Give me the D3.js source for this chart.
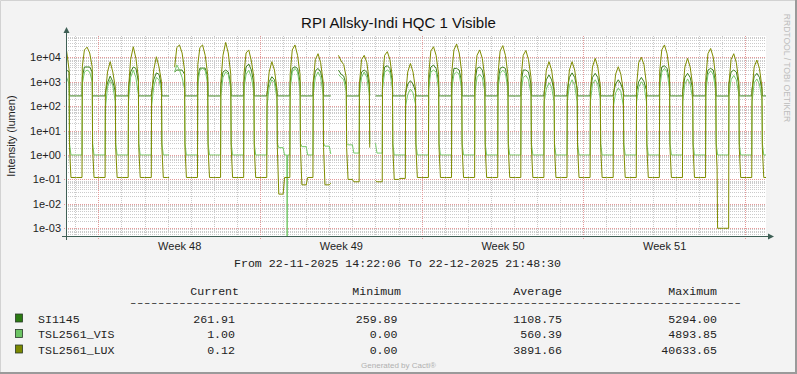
<!DOCTYPE html>
<html>
<head>
<meta charset="utf-8">
<script src="https://cdn.jsdelivr.net/npm/d3@7"></script>
<style>
  body { margin: 0; background: #f3f3f3; }
  text { font-family: "Liberation Sans", Arial, sans-serif; }
  .mono { font-family: "Liberation Mono", "Courier New", monospace; font-size: 11.6px; fill: #222; }
</style>
</head>
<body>
<div id="container"></div>
<script>
/* DATA */
const startTime = "2025-11-22 14:22:06",
  endTime = "2025-12-22 21:48:30";

// readings per day (22 Nov .. 22 Dec) at these local hours
const dayHours = [7.3, 9.5, 12.3, 15, 17.6];
const riseHour = 7.0, duskHour = 18.0, nightHours = [19.5, 24, 25.5];

const luxDay = [
  [3000, 15000, 25000, 18000, 3000], [4000, 20000, 26000, 15000, 4000],
  [300, 2500, 6600, 2500, 600], [500, 8000, 27000, 9000, 1500],
  [250, 3000, 10500, 4000, 1000], [4000, 25000, 32000, 15000, 3000],
  [5000, 25000, 32000, 12000, 2000], [1000, 12000, 40600, 15000, 2000],
  [2000, 15000, 20000, 7000, 1500], [300, 2500, 6600, 3000, 500],
  [2000, 20000, 32000, 12000, 2000], [1000, 8000, 14000, 6000, 1000],
  [null, 12000, 7000, 5000, 1500], [800, 8000, 12000, 6000, 1000],
  [1500, 12000, 17000, 8000, 1500], [300, 2500, 5600, 2500, 500],
  [2000, 18000, 27000, 12000, 2000], [2500, 20000, 35000, 15000, 2500],
  [1500, 12000, 20000, 9000, 1500], [2000, 18000, 30000, 12000, 2000],
  [1500, 12000, 19000, 8000, 1500], [300, 3000, 6600, 3000, 500],
  [300, 3000, 6600, 3000, 500], [400, 4000, 9000, 4000, 700],
  [250, 2000, 4100, 2000, 400], [700, 6000, 10000, 5000, 800],
  [2500, 20000, 32000, 14000, 2500], [400, 4000, 9000, 4000, 700],
  [1500, 14000, 23000, 10000, 1500], [800, 8000, 14000, 6000, 1000],
  [400, 4000, 7700, 3500, 600]
];
const siDay = [
  [2000, 3000, 3000, 3000, 2500], [1500, 4000, 4000, 4000, 2500],
  [350, 900, 1700, 1000, 400], [500, 2500, 4000, 3500, 1000],
  [350, 1200, 2300, 2000, 700], [2500, 3000, 3000, 3000, 2000],
  [1500, 3600, 3600, 3600, 1500], [700, 2500, 3000, 2500, 800],
  [1000, 4000, 5294, 3000, 800], [350, 1000, 1600, 1200, 400],
  [1000, 3500, 4100, 3500, 1000], [800, 2800, 3500, 2500, 800],
  [null, 3000, 2000, 1700, 700], [700, 2500, 3000, 2500, 700],
  [1000, 4000, 4500, 3500, 1000], [350, 800, 1100, 800, 400],
  [1000, 4000, 4800, 3500, 1000], [1000, 3500, 3500, 3000, 900],
  [1000, 3500, 4000, 3000, 900], [1000, 3500, 4000, 3500, 900],
  [900, 3000, 3000, 2500, 800], [400, 1200, 1900, 1200, 450],
  [450, 1500, 2300, 1500, 500], [450, 1500, 2200, 1500, 500],
  [350, 800, 1200, 800, 400], [400, 1000, 1500, 1000, 450],
  [1000, 4000, 4500, 3500, 1000], [450, 1500, 2200, 1500, 500],
  [900, 3000, 3500, 3000, 800], [800, 2500, 3000, 2500, 700],
  [500, 1600, 2200, 1500, 500]
];
const visDay = [
  [1500, 2000, 2000, 1500, 800], [800, 2500, 3000, 2500, 1000],
  [80, 600, 1200, 700, 150], [150, 1500, 3000, 1500, 300],
  [100, 600, 1500, 1200, 400], [2500, 4893, 3000, 1500, 500],
  [800, 3000, 3500, 3000, 800], [300, 1500, 2500, 2000, 500],
  [500, 2000, 3000, 1500, 400], [100, 600, 1200, 900, 200],
  [500, 2500, 3500, 2500, 500], [300, 1500, 2500, 1500, 300],
  [null, 2000, 1500, 1200, 400], [300, 1500, 2500, 1500, 300],
  [500, 2500, 3000, 2500, 500], [100, 300, 500, 350, 120],
  [500, 2500, 3000, 2500, 500], [500, 2000, 2500, 2000, 500],
  [400, 1500, 2000, 1500, 400], [500, 2200, 3000, 2200, 500],
  [400, 1500, 1800, 1200, 300], [150, 500, 900, 600, 150],
  [150, 700, 1200, 700, 150], [150, 800, 1200, 800, 200],
  [100, 350, 550, 400, 100], [150, 600, 1000, 700, 150],
  [500, 2500, 3500, 2500, 500], [150, 800, 1300, 800, 200],
  [400, 2000, 2800, 2000, 400], [300, 1200, 1800, 1200, 300],
  [150, 900, 1300, 800, 200]
];

// night levels after each day: evening and small hours
const luxEve = [0.12, 0.12, 0.12, 0.12, 0.12, 0.12, 0.12, 0.12, 0.12, 0.025, 0.06, 0.06, 0.1, 0.09, 0.1, 0.12,
  0.12, 0.12, 0.12, 0.12, 0.12, 0.12, 0.12, 0.12, 0.12, 0.12, 0.12, 0.12, 0.001, 0.12, 0.12];
const luxLate = [0.12, 0.12, 0.12, 0.12, 0.12, 0.12, 0.12, 0.12, 0.12, 0.12, 0.12, 0.07, 0.08, 0.08, 0.11, 0.12,
  0.12, 0.12, 0.12, 0.12, 0.12, 0.12, 0.12, 0.12, 0.12, 0.12, 0.12, 0.12, 0.001, 0.12, 0.12];
const visEve = [1, 1, 1, 1, 1, 1, 1, 1, 1, 2.0, 2.2, 2.3, 2.6, 3.0, 1, 1,
  1, 1, 1, 1, 1, 1, 1, 1, 1, 1, 1, 1, 1, 1, 1];
const visLate = [1, 1, 1, 1, 1, 1, 1, 1, 1, 1, 1, 1.1, 1.2, 1.2, 1, 1,
  1, 1, 1, 1, 1, 1, 1, 1, 1, 1, 1, 1, 1, 1, 1];
const siNight = [262, 262, 262, 262, 262, 262, 261, 262, 262, 262, 262, 262, 261, 262, 262, 262,
  262, 262, 262, 261, 262, 262, 262, 262, 262, 262, 262, 262, 260, 262, 261.9];
const luxDusk = 2, visDusk = 3;

// odd single readings: [day, hour, value]
const luxExtra = [[28, 19.0, 0.3]];
const visExtra = [[9, 27.8, 1.0], [9, 28.2, 0.0002], [9, 28.6, 1.0]];

// periods without data
const gaps = [
  ["2025-11-27 03:30:00", "2025-11-27 07:10:00"],
  ["2025-12-04 05:00:00", "2025-12-04 09:00:00"],
  ["2025-12-05 18:30:00", "2025-12-05 22:30:00"]
];

const seriesNames = ["SI1145", "TSL2561_VIS", "TSL2561_LUX"];
const statHeads = ["Current", "Minimum", "Average", "Maximum"];
const stats = [
  ["261.91", "259.89", "1108.75", "5294.00"],
  ["1.00", "0.00", "560.39", "4893.85"],
  ["0.12", "0.00", "3891.66", "40633.65"]
];
const lineColors = ["#3a7f1c", "#76c96a", "#7f8c00"],
  boxColors = ["#2b7a12", "#6cc464", "#7b8800"];

/* CONSTANTS AND GLOBALS */
const width = 797, height = 374,
  plotL = 66, plotR = 766, plotT = 36, plotB = 236;

const parse = d3.timeParse("%Y-%m-%d %H:%M:%S");
const t0 = parse(startTime), t1 = parse(endTime);
const day0 = d3.timeDay.floor(t0);
const at = (k, h) => new Date(+d3.timeDay.offset(day0, k) + h * 3600e3);
const gapRanges = gaps.map(g => g.map(parse));

function buildSeries(dayVals, eve, late, dusk, extra) {
  let pts = [];
  dayVals.forEach((row, k) => {
    pts.push({ t: at(k, riseHour), v: late[Math.max(k - 1, 0)] });
    row.forEach((v, i) => { if (v != null) pts.push({ t: at(k, dayHours[i]), v: v }); });
    pts.push({ t: at(k, duskHour), v: dusk == null ? eve[k] : dusk });
    pts.push({ t: at(k, nightHours[0]), v: eve[k] });
    pts.push({ t: at(k, nightHours[1]), v: eve[k] });
    pts.push({ t: at(k, nightHours[2]), v: late[k] });
  });
  extra.forEach(([k, h, v]) => pts.push({ t: at(k, h), v: v }));
  pts = pts.filter(p => !gapRanges.some(([a, b]) => p.t > a && p.t < b));
  gapRanges.forEach(([a, b]) => pts.push({ t: new Date((+a + +b) / 2), v: null }));
  pts = pts.filter(p => p.t <= t1);
  pts.push({ t: t1, v: eve[dayVals.length - 1] });
  return pts.sort((a, b) => a.t - b.t);
}

const series = [
  buildSeries(siDay, siNight, siNight, null, []),
  buildSeries(visDay, visEve, visLate, visDusk, visExtra),
  buildSeries(luxDay, luxEve, luxLate, luxDusk, luxExtra)
];

/* SCALES */
const xScale = d3.scaleTime().domain([t0, t1]).range([plotL, plotR]);
const yScale = d3.scaleLog().domain([Math.pow(10, -3.316), Math.pow(10, 4.871)]).range([plotB, plotT]);

const svg = d3.select("#container").append("svg")
  .attr("width", width)
  .attr("height", height)
  .style("display", "block");

// canvas + border
svg.append("rect").attr("width", width).attr("height", height).attr("fill", "#f3f3f3");
svg.append("path").attr("d", `M0.5,${height} V0.5 H${width}`).attr("fill", "none").attr("stroke", "#d2d2d2");
svg.append("path").attr("d", `M0,${height - 1} H${width - 1} V0`).attr("fill", "none").attr("stroke", "#9a9a9a").attr("stroke-width", 2);

svg.append("rect")
  .attr("x", plotL).attr("y", plotT)
  .attr("width", plotR - plotL).attr("height", plotB - plotT)
  .attr("fill", "#ffffff");

/* GRID */
const grid = svg.append("g").attr("stroke-dasharray", "1,1").attr("shape-rendering", "crispEdges");
const [ylo, yhi] = yScale.domain();
const minorY = [];
for (let e = -4; e <= 4; e++) for (let m = 2; m <= 9; m++) {
  const v = m * Math.pow(10, e);
  if (v > ylo && v < yhi) minorY.push(v);
}
const majorY = d3.range(-3, 5).map(e => Math.pow(10, e));

grid.selectAll(".ymin").data(minorY).join("line")
  .attr("x1", plotL).attr("x2", plotR)
  .attr("y1", d => Math.round(yScale(d)) + 0.5).attr("y2", d => Math.round(yScale(d)) + 0.5)
  .attr("stroke", "#cbcbcb");
grid.selectAll(".xmin").data(d3.timeDay.range(t0, t1)).join("line")
  .attr("x1", d => Math.round(xScale(d)) + 0.5).attr("x2", d => Math.round(xScale(d)) + 0.5)
  .attr("y1", plotT).attr("y2", plotB)
  .attr("stroke", "#cbcbcb");
grid.selectAll(".ymaj").data(majorY).join("line")
  .attr("x1", plotL - 2).attr("x2", plotR)
  .attr("y1", d => Math.round(yScale(d)) + 0.5).attr("y2", d => Math.round(yScale(d)) + 0.5)
  .attr("stroke", "#e59a9a");
grid.selectAll(".xmaj").data(d3.timeMonday.range(t0, t1)).join("line")
  .attr("x1", d => Math.round(xScale(d)) + 0.5).attr("x2", d => Math.round(xScale(d)) + 0.5)
  .attr("y1", plotT).attr("y2", plotB + 3)
  .attr("stroke", "#e59a9a");

/* LINES */
svg.append("clipPath").attr("id", "plot")
  .append("rect").attr("x", plotL).attr("y", plotT).attr("width", plotR - plotL).attr("height", plotB - plotT);

const line = d3.line()
  .defined(d => d.v != null && d.v > 0)
  .x(d => xScale(d.t))
  .y(d => yScale(d.v));

svg.append("g").attr("clip-path", "url(#plot)")
  .selectAll("path").data(series).join("path")
  .attr("d", line)
  .attr("fill", "none")
  .attr("stroke", (d, i) => lineColors[i])
  .attr("stroke-width", 1);

/* AXES */
const axisColor = "#3e5f55";
svg.append("line").attr("x1", plotL - 4).attr("x2", 769).attr("y1", plotB + 0.5).attr("y2", plotB + 0.5).attr("stroke", axisColor);
svg.append("path").attr("d", `M768,${plotB - 2.5} L774,${plotB + 0.5} L768,${plotB + 3.5} Z`).attr("fill", axisColor);
svg.append("line").attr("x1", plotL + 0.5).attr("x2", plotL + 0.5).attr("y1", plotB + 4).attr("y2", 32).attr("stroke", axisColor);
svg.append("path").attr("d", `M${plotL - 2.5},33 L${plotL + 0.5},27 L${plotL + 3.5},33 Z`).attr("fill", axisColor);

const expFmt = v => {
  const e = Math.round(Math.log10(v));
  return "1e" + (e < 0 ? "-" : "+") + String(Math.abs(e)).padStart(2, "0");
};
const yAxis = d3.axisLeft(yScale).tickValues(majorY).tickFormat(expFmt).tickSize(0).tickPadding(5);
svg.append("g").attr("transform", `translate(${plotL},0)`).call(yAxis)
  .call(g => g.select(".domain").remove())
  .selectAll("text").attr("font-size", 11).attr("fill", "#1e1e1e")
  .attr("font-family", "Liberation Sans, Arial, sans-serif");

const weekLabels = d3.timeMonday.range(d3.timeWeek.offset(t0, -1), t1)
  .map(d => new Date(+d + 3.5 * 864e5))
  .filter(d => d > t0 && d < t1);
const xAxis = d3.axisBottom(xScale).tickValues(weekLabels).tickFormat(d3.timeFormat("Week %V")).tickSize(0).tickPadding(6);
svg.append("g").attr("transform", `translate(0,${plotB})`).call(xAxis)
  .call(g => g.select(".domain").remove())
  .selectAll("text").attr("font-size", 11).attr("fill", "#1e1e1e")
  .attr("font-family", "Liberation Sans, Arial, sans-serif");

/* TITLES */
svg.append("text")
  .attr("x", 398.5).attr("y", 28)
  .attr("text-anchor", "middle")
  .style("font-size", "15px")
  .attr("fill", "#111")
  .text("RPI Allsky-Indi HQC 1 Visible");

svg.append("text")
  .attr("transform", "translate(15,136) rotate(-90)")
  .attr("text-anchor", "middle")
  .style("font-size", "11px")
  .attr("fill", "#1e1e1e")
  .text("Intensity (lumen)");

svg.append("text")
  .attr("transform", "translate(783.5,68) rotate(90)")
  .attr("text-anchor", "middle")
  .style("font-size", "8.6px")
  .attr("fill", "#bdbdbd")
  .text("RRDTOOL / TOBI OETIKER");

/* LEGEND */
const fmt = d3.timeFormat("%d-%m-%Y %H:%M:%S");
svg.append("text").attr("class", "mono")
  .attr("x", 397.5).attr("y", 267).attr("text-anchor", "middle")
  .text(`From ${fmt(t0)} To ${fmt(t1)}`);

const headRight = [239, 401, 562, 717], valRight = [235, 397.5, 562, 717];
svg.selectAll("text.head").data(statHeads).join("text")
  .attr("class", "mono head")
  .attr("x", (d, i) => headRight[i]).attr("y", 295)
  .attr("text-anchor", "end")
  .text(d => d);

// dashed rule, squeezed vertically so it stays clear of the header
svg.append("text").attr("class", "mono")
  .attr("transform", "translate(129,305) scale(1,0.55)")
  .style("font-size", "14px")
  .attr("textLength", 613).attr("lengthAdjust", "spacing")
  .attr("stroke", "#333").attr("stroke-width", 0.35)
  .text("-".repeat(87));

const rows = svg.selectAll("g.row").data(seriesNames).join("g")
  .attr("class", "row")
  .attr("transform", (d, i) => `translate(0,${318.5 + i * 15.5})`);
rows.append("rect")
  .attr("x", 15.5).attr("y", -4.5).attr("width", 7).attr("height", 8)
  .attr("fill", (d, i) => boxColors[i])
  .attr("stroke", "#2a3a2a").attr("stroke-width", 0.8);
rows.append("text").attr("class", "mono")
  .attr("x", 38).attr("y", 4)
  .text(d => d);
rows.each(function (d, i) {
  d3.select(this).selectAll("text.val").data(stats[i]).join("text")
    .attr("class", "mono val")
    .attr("x", (v, j) => valRight[j]).attr("y", 4)
    .attr("text-anchor", "end")
    .text(v => v);
});

svg.append("text")
  .attr("x", 398.5).attr("y", 367.5)
  .attr("text-anchor", "middle")
  .style("font-size", "8px")
  .attr("fill", "#b0b0b0")
  .text("Generated by Cacti®");
</script>
</body>
</html>
